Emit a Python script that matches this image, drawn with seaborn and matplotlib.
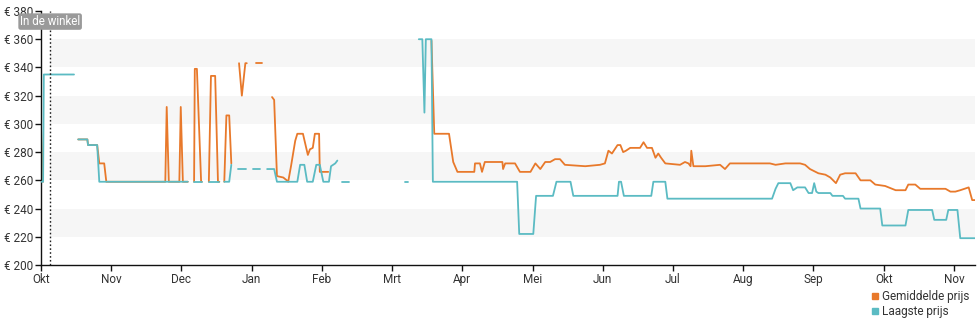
import numpy as np
import pandas as pd
import matplotlib
matplotlib.use("Agg")
import matplotlib.pyplot as plt
from matplotlib.lines import Line2D
import seaborn as sns

nan = np.nan

# x positions in months since 1 Okt (0 = Okt, 1 = Nov, ...)
month_labels = ["Okt", "Nov", "Dec", "Jan", "Feb", "Mrt", "Apr", "Mei",
                "Jun", "Jul", "Aug", "Sep", "Okt", "Nov"]
y_ticks = [200, 220, 240, 260, 280, 300, 320, 340, 360, 380]

avg_x = [0.00, 0.03, 0.30,
         0.53, 0.66, 0.67, 0.80, 0.83, 0.90, 0.93, 1.77, 1.79, 1.82, 1.97, 1.99, 2.02, 2.09, 2.12,
         2.18, 2.19, 2.22, 2.28, 2.29, 2.33,
         2.39, 2.42, 2.48, 2.52, 2.54, 2.57,
         2.61, 2.64, 2.68, 2.71, 2.76,
         2.82, 2.86, 2.91, 2.93, 3.00,
         3.06, 3.15, 3.20,
         3.29, 3.32, 3.36, 3.45, 3.50, 3.52, 3.56, 3.62, 3.65, 3.73, 3.80, 3.83, 3.87, 3.90,
         3.96, 3.97, 4.09, 4.50,
         5.56, 5.60, 5.81, 5.87, 5.93, 6.17, 6.18, 6.25, 6.28, 6.32, 6.57, 6.58, 6.61, 6.75,
         6.82, 6.97, 7.04, 7.11, 7.18, 7.25, 7.32, 7.39, 7.46, 7.75, 7.96, 8.03, 8.08, 8.13,
         8.21, 8.25, 8.29, 8.33, 8.39, 8.53, 8.58, 8.63, 8.70, 8.75, 8.79, 8.83, 8.89, 9.10,
         9.17, 9.22, 9.25, 9.26, 9.29, 9.46, 9.67, 9.74, 9.81, 10.38, 10.46, 10.60, 10.81,
         10.88, 10.95, 11.07, 11.17, 11.24, 11.32, 11.38, 11.45, 11.60, 11.67, 11.81, 11.88,
         12.02, 12.17, 12.31, 12.35, 12.45, 12.52, 12.88, 12.95, 13.02, 13.09, 13.21, 13.26,
         13.30]
avg_y = [298, 259, nan,
         289, 289, 285, 285, 272, 272, 259, 259, 312, 259, 259, 312, 259, 259, nan,
         259, 339, 339, 259, 259, nan,
         259, 334, 334, 259, 259, nan,
         259, 306, 306, 272, nan,
         343, 320, 343, 343, nan,
         343, 343, nan,
         319, 317, 263, 262, 260, 259, 270, 288, 293, 293, 278, 282, 283, 293,
         293, 266, 266, nan,
         359, 293, 293, 273, 266, 266, 272, 272, 266, 273, 273, 268, 272, 272,
         266, 266, 272, 268, 273, 273, 275, 275, 271, 270, 271, 272, 281, 279,
         285, 285, 280, 281, 283, 283, 287, 283, 283, 276, 279, 276, 272, 271,
         273, 272, 270, 281, 270, 270, 271, 268, 272, 272, 271, 272, 272,
         271, 268, 265, 264, 262, 258, 264, 265, 265, 260, 260, 257,
         256, 253, 253, 257, 257, 254, 254, 252, 252, 253, 255, 246,
         246]

low_x = [0.00, 0.03, 0.04, 0.47, 0.50,
         0.53, 0.66, 0.67, 0.80, 0.83, 2.09, 2.12,
         2.18, 2.29, 2.33,
         2.39, 2.54, 2.57,
         2.61, 2.68, 2.71, 2.76,
         2.81, 2.92, 2.97,
         3.02, 3.12, 3.17,
         3.22, 3.32, 3.36, 3.65, 3.69, 3.75, 3.79, 3.87, 3.92, 3.97, 4.02, 4.10, 4.13,
         4.19, 4.22, 4.25,
         4.29, 4.39, 4.45,
         5.19, 5.23, 5.30,
         5.38, 5.43, 5.46, 5.48, 5.56, 5.58, 6.78, 6.81, 7.01, 7.05, 7.29, 7.34, 7.54,
         7.58, 8.21, 8.23, 8.26, 8.30, 8.69, 8.72, 8.89, 8.92, 10.41, 10.46, 10.50,
         10.67, 10.71, 10.77, 10.88, 10.93, 10.98, 11.01, 11.04, 11.07, 11.24, 11.27,
         11.42, 11.45, 11.64, 11.67, 11.95, 11.98, 12.31, 12.35, 12.69, 12.72, 12.89,
         12.92, 13.05, 13.09, 13.30]
low_y = [259, 259, 335, 335, nan,
         289, 289, 285, 285, 259, 259, nan,
         259, 259, nan,
         259, 259, nan,
         259, 259, 271, nan,
         268, 268, nan,
         268, 268, nan,
         268, 268, 259, 259, 271, 271, 259, 259, 271, 271, 259, 259, 270,
         272, 274, nan,
         259, 259, nan,
         259, 259, nan,
         360, 360, 308, 360, 360, 259, 259, 222, 222, 249, 249, 259, 259,
         249, 249, 259, 259, 249, 249, 259, 259, 247, 247, 254, 258,
         258, 253, 255, 255, 251, 251, 258, 252, 251, 251, 249,
         249, 247, 247, 240, 240, 228, 228, 239, 239, 232, 232,
         239, 239, 219, 219]


def to_frame(xs, ys):
    df = pd.DataFrame({"x": xs, "y": ys})
    df["seg"] = df["y"].isna().cumsum()
    return df.dropna()


avg_df = to_frame(avg_x, avg_y)
low_df = to_frame(low_x, low_y)

ORANGE = "#e8792b"
TEAL = "#5bbbc3"
TEXT = "#333333"

sns.set_theme(style="white")
plt.rcParams["font.family"] = ["Roboto", "DejaVu Sans"]

fig = plt.figure(figsize=(9.8, 3.25), dpi=100)
ax = fig.add_axes([41 / 980, 60 / 325, 934 / 980, 254 / 325])

x_max = 13.30
store_x = 0.13

# alternating grid bands
for lo in [220, 260, 300, 340]:
    ax.axhspan(lo, lo + 20, xmin=store_x / x_max, xmax=1, color="#f6f6f6", lw=0, zorder=0)

sns.lineplot(data=low_df, x="x", y="y", units="seg", estimator=None, color=TEAL,
             lw=1.3, ax=ax, zorder=3)
sns.lineplot(data=avg_df, x="x", y="y", units="seg", estimator=None, color=ORANGE,
             lw=1.3, ax=ax, zorder=2)

ax.axvline(store_x, color="#222222", lw=1.0, ls=(0, (1.2, 1.6)), zorder=4)
ax.text(store_x, 372.5, "In de winkel", ha="center", va="center", fontsize=8.3,
        color="white", zorder=5,
        bbox=dict(boxstyle="round,pad=0.15,rounding_size=0.2", fc="#9a9a9a", ec="none"))

ax.set_xlim(0, x_max)
ax.set_ylim(200, 380)
ax.set_xticks(range(len(month_labels)))
ax.set_xticklabels(month_labels)
ax.set_yticks(y_ticks)
ax.set_yticklabels([f"€ {v}" for v in y_ticks])
ax.set_xlabel("")
ax.set_ylabel("")

for side in ["top", "right"]:
    ax.spines[side].set_visible(False)
for side in ["left", "bottom"]:
    ax.spines[side].set_color("#111111")
    ax.spines[side].set_linewidth(1.0)

ax.tick_params(axis="both", which="both", length=4, width=1.0, color="#111111",
               labelsize=8.5, labelcolor=TEXT, pad=1.5, direction="out",
               left=True, bottom=True)

handles = [Line2D([], [], marker="s", ls="none", color=ORANGE, markersize=5),
           Line2D([], [], marker="s", ls="none", color=TEAL, markersize=5)]
fig.legend(handles, ["Gemiddelde prijs", "Laagste prijs"], loc="upper left",
           bbox_to_anchor=(871 / 980, 1 - 290 / 325), frameon=False, fontsize=8.5,
           handlelength=0.6, handletextpad=0.3, labelspacing=0.15, borderpad=0,
           borderaxespad=0, labelcolor=TEXT)

fig.savefig("out.png", dpi=100)
